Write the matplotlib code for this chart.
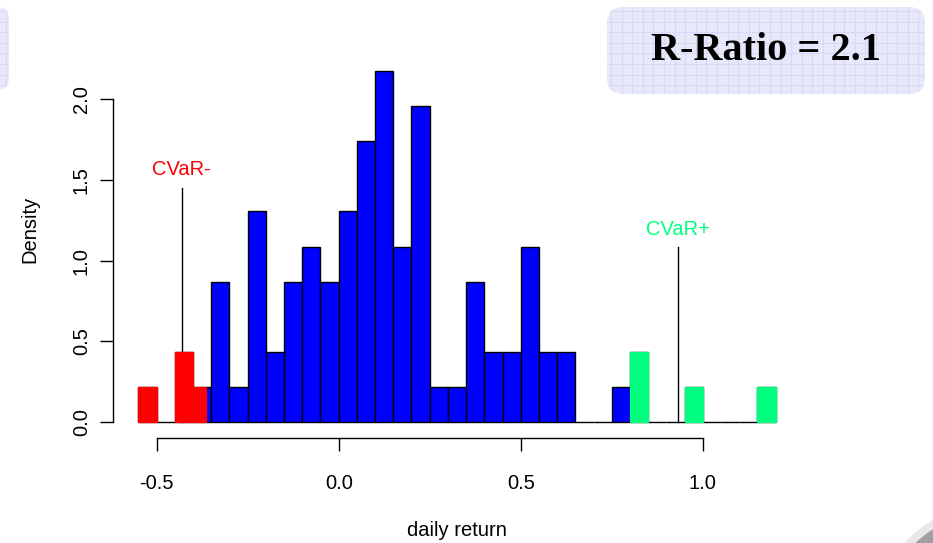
import numpy as np
import matplotlib.pyplot as plt
from matplotlib.patches import FancyBboxPatch, Wedge

# ---- histogram data -------------------------------------------------------
bin_width = 0.05
bin_edges = np.round(np.arange(-0.55, 1.2001, bin_width), 2)
counts = [1, 0, 2, 1, 4, 1, 6, 2, 4, 5, 4, 6, 8, 10, 5, 9, 1, 1, 4, 2, 2, 5,
          2, 2, 0, 0, 1, 2, 0, 0, 1, 0, 0, 0, 1]

# left tail (below VaR-) and right tail (above VaR+) segments
left_tail_lo = [-0.55, -0.45, -0.40]
left_tail_hi = [-0.50, -0.40, -0.365]
left_tail_counts = [1, 2, 1]
right_tail_lo = [0.80, 0.95, 1.15]
right_tail_hi = [0.85, 1.00, 1.20]
right_tail_counts = [2, 1, 1]

cvar_minus = -0.431
cvar_plus = 0.931
r_ratio = 2.1

x_ticks = [-0.5, 0.0, 0.5, 1.0]
x_tick_labels = ["-0.5", "0.0", "0.5", "1.0"]
y_ticks = [0.0, 0.5, 1.0, 1.5, 2.0]
y_tick_labels = ["0.0", "0.5", "1.0", "1.5", "2.0"]

# ---- figure ---------------------------------------------------------------
W, H = 933, 543
plt.rcParams['font.family'] = ['Liberation Sans', 'DejaVu Sans']
fig = plt.figure(figsize=(W / 100, H / 100), dpi=100)
fig.patch.set_facecolor('white')

ax = fig.add_axes([113 / W, (H - 437.8) / H, 688 / W, (437.8 - 20.3) / H])
ax.set_facecolor('none')

n_obs = sum(counts)
scale = 1.0 / (n_obs * bin_width)
density = np.array(counts) * scale

ax.bar(bin_edges[:-1], density, width=bin_width, align='edge',
       color='#0000FF', edgecolor='black', linewidth=1.0, zorder=2)

ax.bar(left_tail_lo, np.array(left_tail_counts) * scale,
       width=np.array(left_tail_hi) - np.array(left_tail_lo), align='edge',
       color='#FF0000', edgecolor='#FF0000', linewidth=0.9, zorder=3)
ax.bar(right_tail_lo, np.array(right_tail_counts) * scale,
       width=np.array(right_tail_hi) - np.array(right_tail_lo), align='edge',
       color='#00FF7F', edgecolor='#00FF7F', linewidth=0.9, zorder=3)

# CVaR markers
top = density.max()
minus_h = top * 2 / 3
plus_h = top / 2
ax.plot([cvar_minus, cvar_minus], [0, minus_h], color='black', lw=1.0, zorder=1)
ax.plot([cvar_plus, cvar_plus], [0, plus_h], color='black', lw=1.0, zorder=1)
ax.text(cvar_minus, minus_h + 0.117, 'CVaR-', color='#FF0000',
        ha='center', va='center', fontsize=14.5)
ax.text(cvar_plus, plus_h + 0.108, 'CVaR+', color='#00FF7F',
        ha='center', va='center', fontsize=14.5)

ax.set_xlim(-0.62, 1.27)
ax.set_ylim(-0.0956, 2.486)

for side in ('top', 'right'):
    ax.spines[side].set_visible(False)
ax.spines['left'].set_bounds(0, 2)
ax.spines['bottom'].set_bounds(-0.5, 1.0)
for side in ('left', 'bottom'):
    ax.spines[side].set_linewidth(1.0)

ax.set_xticks(x_ticks)
ax.set_xticklabels(x_tick_labels)
ax.set_yticks(y_ticks)
ax.set_yticklabels(y_tick_labels)
ax.tick_params(axis='both', length=9.4, width=1.0, labelsize=14.5,
               direction='out', colors='black')
ax.tick_params(axis='x', pad=17)
ax.tick_params(axis='y', pad=6.5, labelrotation=90)
for lab in ax.get_yticklabels():
    lab.set_verticalalignment('center')

fig.text(456.7 / W, 1 - 531 / H, 'daily return', ha='center', va='center',
         fontsize=14.5)
fig.text(30 / W, 1 - 229 / H, 'Density', ha='center', va='center',
         rotation=90, fontsize=14.5)

# ---- decorative overlay (pixel coordinates) --------------------------------
ov = fig.add_axes([0, 0, 1, 1], zorder=5)
ov.set_xlim(0, W)
ov.set_ylim(H, 0)
ov.axis('off')
ov.patch.set_alpha(0)


def grid_box(x0, y0, x1, y1, r):
    box = FancyBboxPatch((x0, y0), x1 - x0, y1 - y0,
                         boxstyle=f"round,pad=0,rounding_size={r}",
                         facecolor='#E8E8FB', edgecolor='none')
    ov.add_patch(box)
    step = 10.6
    for gx in np.arange(x0 + 4, x1, step):
        ln, = ov.plot([gx, gx], [y0, y1], color='#D8D8F6', lw=0.8)
        ln.set_clip_path(box)
    for gy in np.arange(y0 + 4, y1, step):
        ln, = ov.plot([x0, x1], [gy, gy], color='#D8D8F6', lw=0.8)
        ln.set_clip_path(box)
    return box


grid_box(607, 7, 925, 94, 16)
grid_box(-30, 7, 9, 90, 12)
ov.text(766, 51, f'R-Ratio = {r_ratio}', ha='center', va='center',
        fontsize=29, fontweight='bold', family='Liberation Serif', color='black')

# corner ornament
ov.add_patch(Wedge((992, 622), 118, 180, 270, width=10, facecolor='#e8e8e8',
                   edgecolor='none'))
ov.add_patch(Wedge((992, 622), 110, 180, 270, width=14, facecolor='#a0a0a0',
                   edgecolor='none'))
ov.add_patch(Wedge((992, 622), 96, 180, 270, width=20, facecolor='#cccccc',
                   edgecolor='none'))

fig.savefig('out.png', dpi=100)
